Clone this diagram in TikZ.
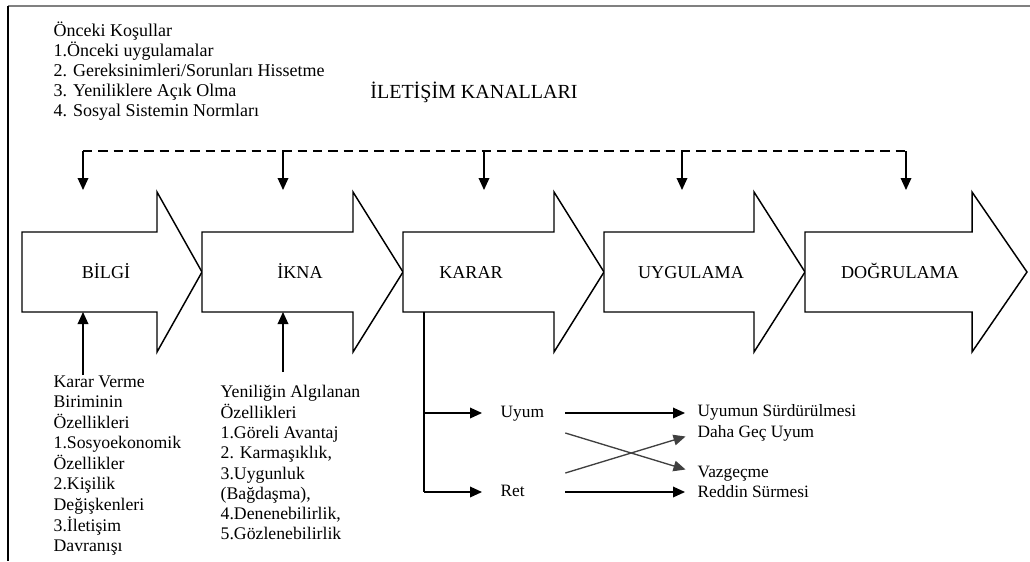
\documentclass[tikz,border=0pt]{standalone}
\usepackage{fontspec}
\setmainfont{Liberation Serif}
\usetikzlibrary{arrows.meta,positioning,calc}

\begin{document}
\begin{tikzpicture}[
      x=0.75pt, y=-0.75pt,
      line width=1pt, >={Triangle[length=9pt,width=8pt]},
      stage/.style={draw, line width=1.1pt, fill=white, line join=miter},
      stagelbl/.style={font=\fontsize{13.6}{16}\selectfont, inner sep=0pt,
        text height=9pt, text depth=0pt},
      block/.style={font=\fontsize{13.3}{15.4}\selectfont, align=left,
        inner sep=0pt, anchor=north west},
      resp/.style={font=\fontsize{13}{15}\selectfont, inner sep=0pt,
        anchor=west, text height=9pt, text depth=3pt},
      cross/.style={->, draw=black!75, fill=black!75}
      ]

  \useasboundingbox (0,0) rectangle (1030,561);

  % frame
  \draw[black!50, line width=1.6pt] (8,6) -- (1030,6);
  \draw[line width=1.2pt] (8,6) -- (8,561);

  % the five stages
  \draw[stage] (22,232) -- (157,232) -- (157,192) -- (202,272) -- (157,352) -- (157,312) -- (22,312) -- cycle;
  \draw[stage] (202,232) -- (353,232) -- (353,192) -- (403,272) -- (353,352) -- (353,312) -- (202,312) -- cycle;
  \draw[stage] (403,232) -- (554,232) -- (554,192) -- (604,272) -- (554,352) -- (554,312) -- (403,312) -- cycle;
  \draw[stage] (604,232) -- (754,232) -- (754,192) -- (805,272) -- (754,352) -- (754,312) -- (604,312) -- cycle;
  \draw[stage] (805,232) -- (972,232) -- (972,192) -- (1027,272) -- (972,352) -- (972,312) -- (805,312) -- cycle;

  \node[stagelbl] (bilgi) at (106,272) {BİLGİ};
  \node[stagelbl] (ikna) at (300,272) {İKNA};
  \node[stagelbl] (karar) at (471,272) {KARAR};
  \node[stagelbl] (uygulama) at (691,272) {UYGULAMA};
  \node[stagelbl] (dogrulama) at (900,272) {DOĞRULAMA};

  \coordinate (bilgi-b) at (83,312);
  \coordinate (ikna-b) at (283,312);
  \coordinate (karar-b) at (424,312);

  % texts
  \node[block, font=\fontsize{13.5}{15}\selectfont] (onceki) at (53,21)
    {Önceki Koşullar\\1.Önceki uygulamalar\\2. Gereksinimleri/Sorunları Hissetme\\3. Yeniliklere Açık Olma\\4. Sosyal Sistemin Normları};
  \node[font=\fontsize{15}{18}\selectfont, inner sep=0pt] (kanal) at (474,92) {İLETİŞİM KANALLARI};

  \node[block] (kvb) at (53,375)
    {Karar Verme\\Biriminin\\Özellikleri\\1.Sosyoekonomik\\Özellikler\\2.Kişilik\\Değişkenleri\\3.İletişim\\Davranışı};
  \node[block, font=\fontsize{13.3}{15.2}\selectfont] (yao) at (220,385)
    {Yeniliğin Algılanan\\Özellikleri\\1.Göreli Avantaj\\2. Karmaşıklık,\\3.Uygunluk\\(Bağdaşma),\\4.Denenebilirlik,\\5.Gözlenebilirlik};

  % communication channels
  \foreach \x/\n in {83/1,283/2,484/3,682/4,906/5}{
    \coordinate (ch\n) at (\x,151);
    \coordinate (in\n) at (\x,190);
  }
  \draw[dash pattern=on 7pt off 4.5pt] (ch1) -- (ch5);
  \foreach \n in {1,...,5}
    \draw[->] (ch\n) -- (in\n);

  \draw[->] (kvb.north -| bilgi-b) -- (bilgi-b);
  \draw[->] ($(yao.north -| ikna-b)+(0,-13)$) -- (ikna-b);

  % decision
  \node[resp, text width=48pt] (uyum) at (500,413) {Uyum};
  \node[resp, text width=48pt] (ret) at (500,492) {Ret};
  \node[resp] (surdur) at (697,412) {Uyumun Sürdürülmesi};
  \node[resp] (gec) at (697,433) {Daha Geç Uyum};
  \node[resp] (vazgec) at (697,473) {Vazgeçme};
  \node[resp] (reddin) at (697,493) {Reddin Sürmesi};

  \draw (karar-b) -- (karar-b |- ret);
  \draw[->, shorten >=13.5pt] (karar-b |- uyum) -- (uyum.west);
  \draw[->, shorten >=13.5pt] (karar-b |- ret) -- (ret.west);

  \draw[->, shorten >=9pt] (uyum.east) -- (uyum.east -| surdur.west);
  \draw[->, shorten >=9pt] (ret.east) -- (ret.east -| reddin.west);
  \draw[cross, shorten >=9pt] (uyum.east |- gec.west) -- (vazgec.west);
  \draw[cross, shorten >=9pt] (uyum.east |- vazgec.west) -- (gec.west);

\end{tikzpicture}
\end{document}
